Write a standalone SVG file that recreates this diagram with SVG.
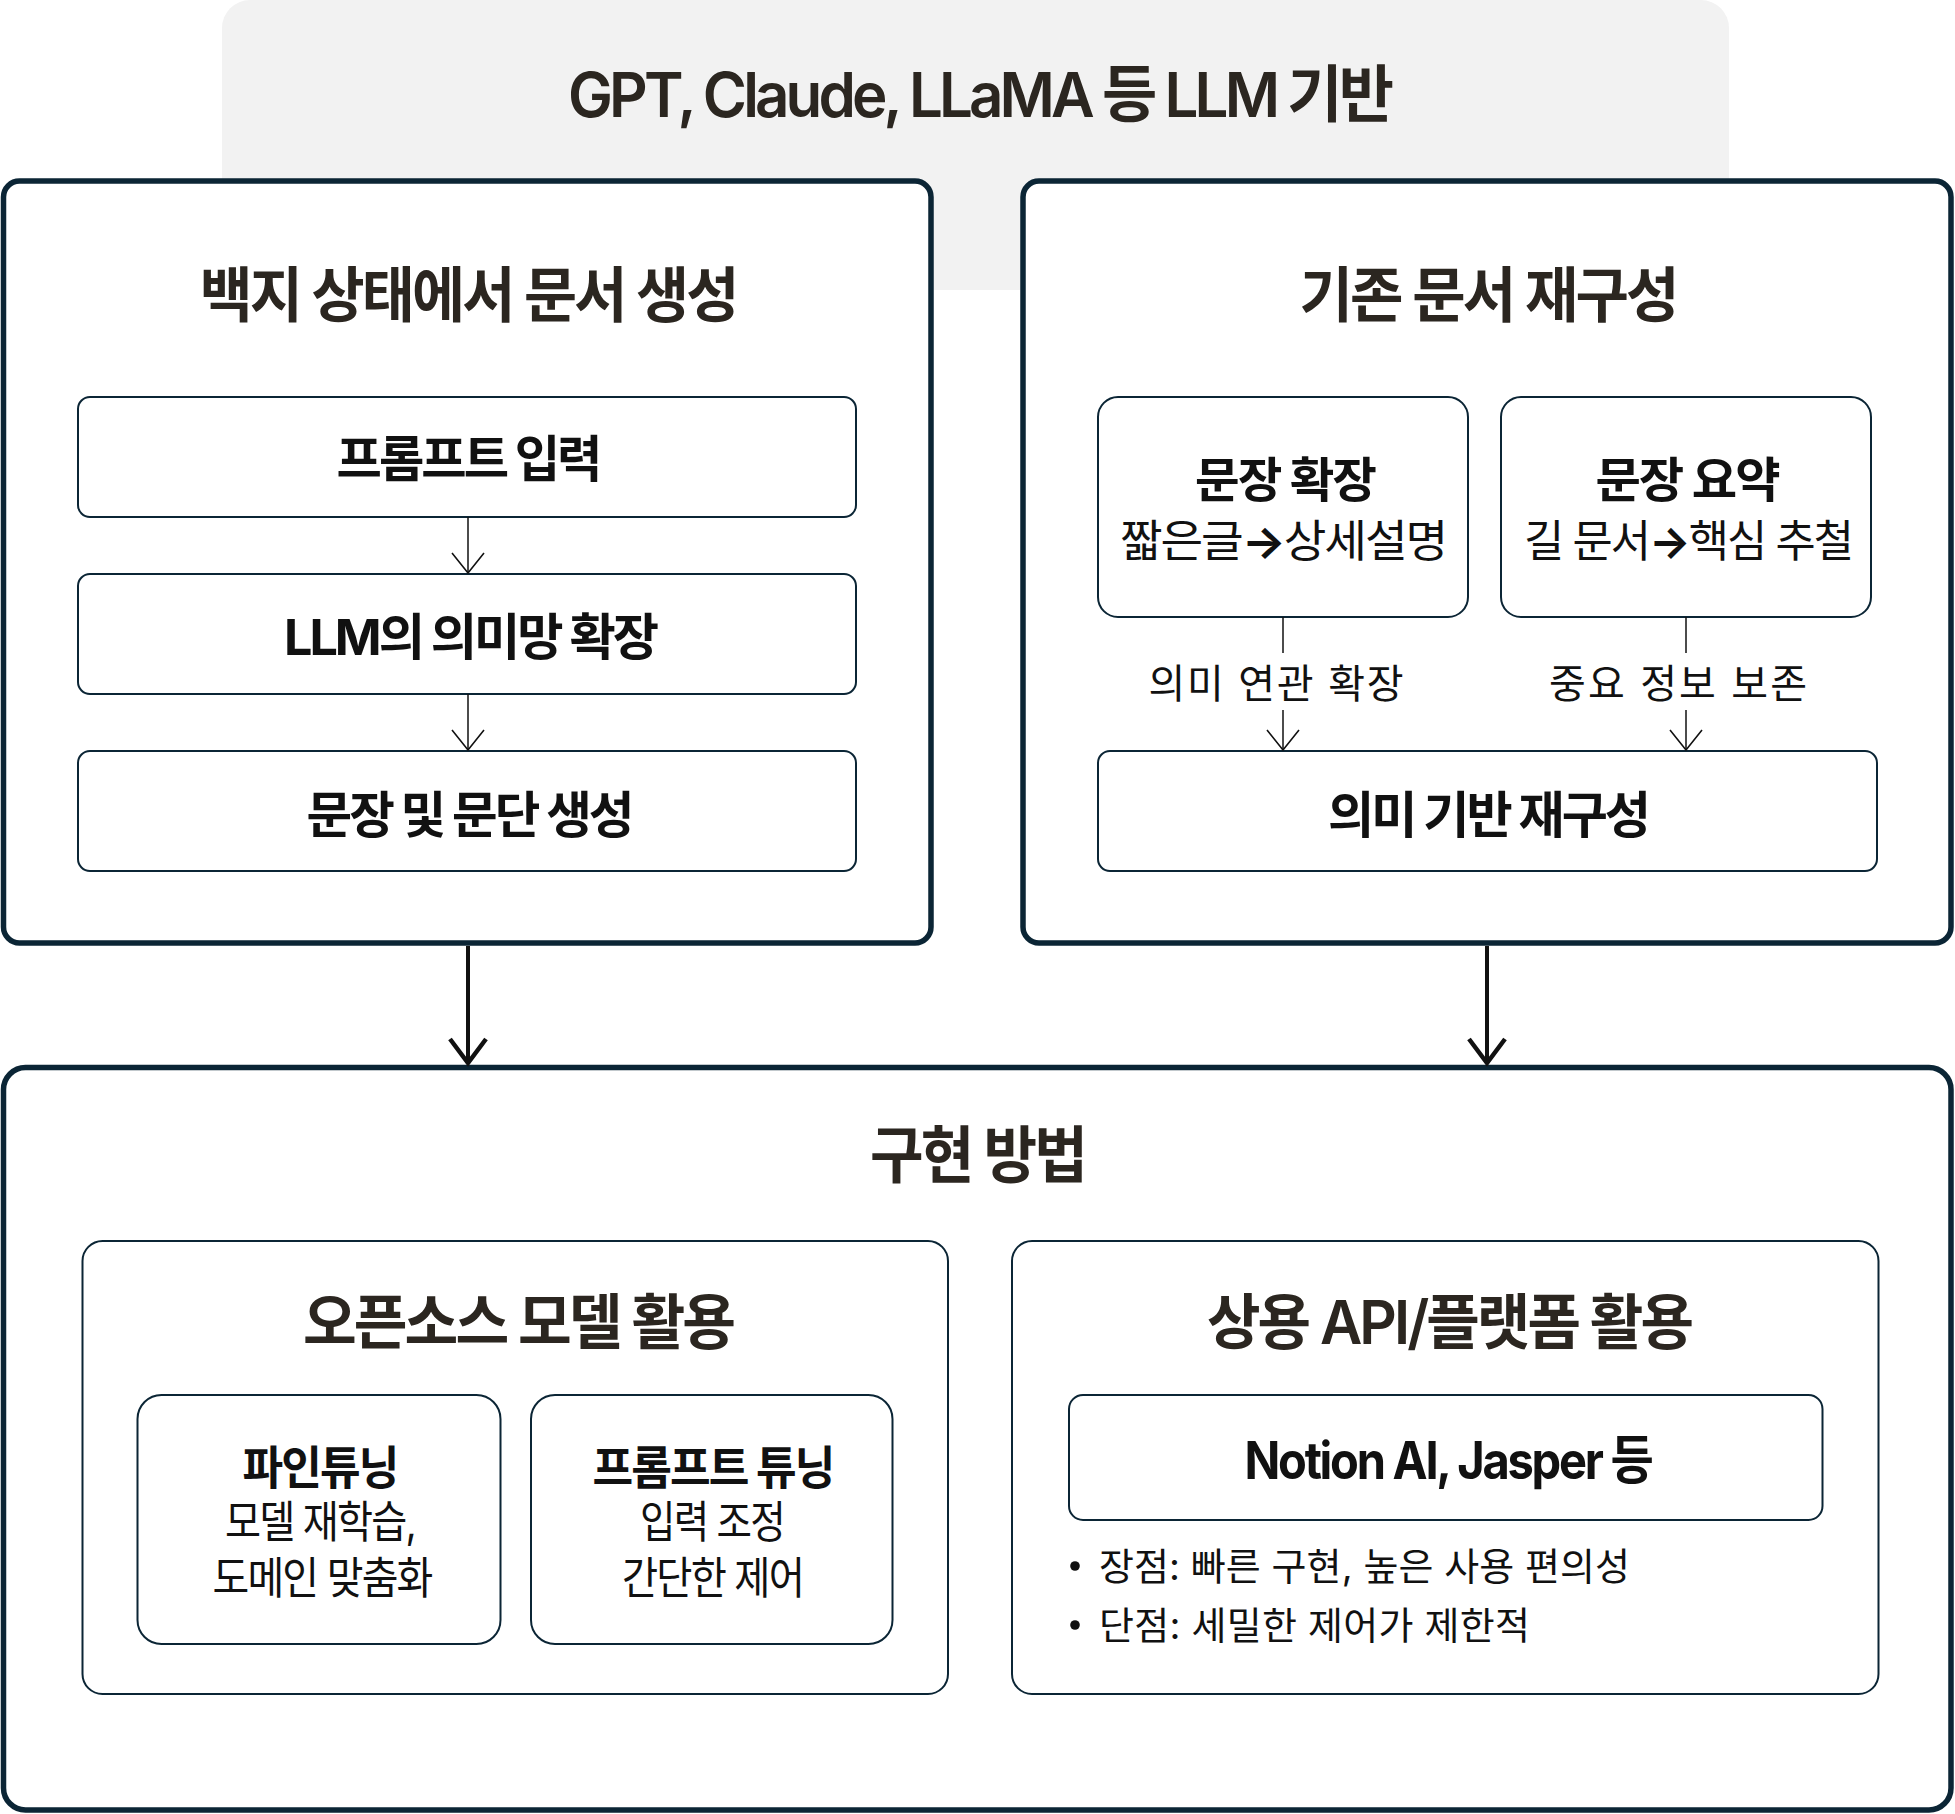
<svg xmlns="http://www.w3.org/2000/svg" width="1955" height="1814" viewBox="0 0 1955 1814">
<style>
  .big { fill: #ffffff; stroke: #0b2535; stroke-width: 5.5; }
  .box { fill: #ffffff; stroke: #0b2535; stroke-width: 2; }
  .t { font-family: Inter, "Noto Sans CJK KR", "Noto Sans", sans-serif; text-anchor: middle; }
  .title { fill: #2b2620; font-weight: 600; }
  .bold { fill: #111111; font-weight: 700; }
  .reg { fill: #111111; font-weight: 400; }
  .thin { stroke: #111111; stroke-width: 1.5; fill: none; }
  .thick { stroke: #111111; stroke-width: 4; fill: none; }
</style>
<defs>
  <marker id="ah" markerUnits="userSpaceOnUse" markerWidth="40" markerHeight="40" refX="0" refY="0" orient="auto" overflow="visible">
    <path d="M-20,-16 L0,0 L-20,16" fill="none" stroke="#111111" stroke-width="1.6"/>
  </marker>
  <marker id="ahb" markerUnits="userSpaceOnUse" markerWidth="40" markerHeight="40" refX="0" refY="0" orient="auto" overflow="visible">
    <path d="M-24,-18 L0,0 L-24,18" fill="none" stroke="#111111" stroke-width="4.5"/>
  </marker>
</defs>

<g id="llm-base">
  <rect x="222" y="0" width="1507" height="290" rx="28" fill="#f2f2f2"/>
  <text class="t title" x="979" y="117" font-size="62" font-weight="700" letter-spacing="-4" textLength="822" lengthAdjust="spacingAndGlyphs">GPT, Claude, LLaMA 등 LLM 기반</text>
</g>

<g id="blank-generation">
  <rect class="big" x="3.5" y="181" width="927.5" height="762" rx="16"/>
  <text class="t title" x="468" y="317" font-size="60" letter-spacing="-3" textLength="537" lengthAdjust="spacingAndGlyphs">백지 상태에서 문서 생성</text>
</g>
<g id="prompt-input">
  <rect class="box" x="78" y="397" width="778" height="120" rx="12"/>
  <text class="t bold" x="468" y="477" font-size="50" letter-spacing="-3" textLength="263" lengthAdjust="spacingAndGlyphs">프롬프트 입력</text>
</g>
<g id="semantic-expansion">
  <rect class="box" x="78" y="574" width="778" height="120" rx="12"/>
  <text class="t bold" x="470" y="655" font-size="50" letter-spacing="-3" textLength="372" lengthAdjust="spacingAndGlyphs">LLM의 의미망 확장</text>
</g>
<g id="sentence-generation">
  <rect class="box" x="78" y="751" width="778" height="120" rx="12"/>
  <text class="t bold" x="469" y="833" font-size="50" letter-spacing="-3" textLength="325" lengthAdjust="spacingAndGlyphs">문장 및 문단 생성</text>
</g>

<g id="restructure">
  <rect class="big" x="1023" y="181" width="928" height="762" rx="16"/>
  <text class="t title" x="1488" y="317" font-size="60" letter-spacing="-3" textLength="377" lengthAdjust="spacingAndGlyphs">기존 문서 재구성</text>
</g>
<g id="sentence-expand">
  <rect class="box" x="1098" y="397" width="370" height="220" rx="20"/>
  <text class="t bold" x="1285" y="497" font-size="48" letter-spacing="-2" textLength="180" lengthAdjust="spacingAndGlyphs">문장 확장</text>
  <text class="t reg" x="1283" y="557" font-size="44" letter-spacing="-2" textLength="326" lengthAdjust="spacingAndGlyphs">짧은글<tspan font-weight="700">→</tspan>상세설명</text>
</g>
<g id="sentence-summary">
  <rect class="box" x="1501" y="397" width="370" height="220" rx="20"/>
  <text class="t bold" x="1687" y="497" font-size="48" letter-spacing="-2" textLength="183" lengthAdjust="spacingAndGlyphs">문장 요약</text>
  <text class="t reg" x="1688" y="557" font-size="44" letter-spacing="-2" textLength="328" lengthAdjust="spacingAndGlyphs">길 문서<tspan font-weight="700">→</tspan>핵심 추철</text>
</g>
<g id="semantic-restructure">
  <rect class="box" x="1098" y="751" width="779" height="120" rx="12"/>
  <text class="t bold" x="1488" y="833" font-size="50" letter-spacing="-3" textLength="320" lengthAdjust="spacingAndGlyphs">의미 기반 재구성</text>
</g>

<g id="implementation">
  <rect class="big" x="3.5" y="1067.5" width="1947.5" height="742.5" rx="22"/>
  <text class="t title" x="977.5" y="1178" font-size="62" letter-spacing="-3" textLength="215" lengthAdjust="spacingAndGlyphs">구현 방법</text>
</g>
<g id="open-source">
  <rect class="box" x="82.5" y="1241" width="865.5" height="453" rx="20"/>
  <text class="t title" x="518" y="1344" font-size="60" letter-spacing="-3" textLength="430" lengthAdjust="spacingAndGlyphs">오픈소스 모델 활용</text>
</g>
<g id="fine-tuning">
  <rect class="box" x="137.5" y="1395" width="363" height="249" rx="24"/>
  <text class="t bold" x="320" y="1484" font-size="46" letter-spacing="-2" textLength="155" lengthAdjust="spacingAndGlyphs">파인튜닝</text>
  <text class="t reg" x="320" y="1538" font-size="44" letter-spacing="-2" textLength="190" lengthAdjust="spacingAndGlyphs">모델 재학습,</text>
  <text class="t reg" x="322" y="1594" font-size="44" letter-spacing="-2" textLength="219" lengthAdjust="spacingAndGlyphs">도메인 맞춤화</text>
</g>
<g id="prompt-tuning">
  <rect class="box" x="531" y="1395" width="361.5" height="249" rx="24"/>
  <text class="t bold" x="713" y="1484" font-size="46" letter-spacing="-2" textLength="241" lengthAdjust="spacingAndGlyphs">프롬프트 튜닝</text>
  <text class="t reg" x="712" y="1538" font-size="44" letter-spacing="-2" textLength="144" lengthAdjust="spacingAndGlyphs">입력 조정</text>
  <text class="t reg" x="712.5" y="1594" font-size="44" letter-spacing="-2" textLength="181" lengthAdjust="spacingAndGlyphs">간단한 제어</text>
</g>
<g id="commercial-api">
  <rect class="box" x="1012" y="1241" width="866.5" height="453" rx="20"/>
  <text class="t title" x="1449" y="1344" font-size="60" letter-spacing="-3" textLength="484" lengthAdjust="spacingAndGlyphs">상용 API/플랫폼 활용</text>
  <circle cx="1075" cy="1566" r="4.8" fill="#111111"/>
  <circle cx="1075" cy="1625" r="4.8" fill="#111111"/>
  <text class="t reg" x="1099" y="1580" font-size="38" style="text-anchor:start" textLength="531">장점: 빠른 구현, 높은 사용 편의성</text>
  <text class="t reg" x="1099" y="1639" font-size="38" style="text-anchor:start" textLength="431">단점: 세밀한 제어가 제한적</text>
</g>
<g id="notion-jasper">
  <rect class="box" x="1069" y="1395" width="753.5" height="125" rx="14"/>
  <text class="t bold" x="1448" y="1479" font-size="52" letter-spacing="-2.5" textLength="407" lengthAdjust="spacingAndGlyphs">Notion AI, Jasper 등</text>
</g>

<g id="connectors">
  <line class="thin" x1="468" y1="517" x2="468" y2="573" marker-end="url(#ah)"/>
  <line class="thin" x1="468" y1="694" x2="468" y2="750" marker-end="url(#ah)"/>
  <line class="thin" x1="1283" y1="617" x2="1283" y2="653"/>
  <line class="thin" x1="1283" y1="710" x2="1283" y2="750" marker-end="url(#ah)"/>
  <line class="thin" x1="1686" y1="617" x2="1686" y2="653"/>
  <line class="thin" x1="1686" y1="710" x2="1686" y2="750" marker-end="url(#ah)"/>
  <text class="t reg" x="1276" y="698" font-size="40" textLength="255">의미 연관 확장</text>
  <text class="t reg" x="1678" y="698" font-size="40" textLength="258">중요 정보 보존</text>
  <line class="thick" x1="468" y1="946" x2="468" y2="1063" marker-end="url(#ahb)"/>
  <line class="thick" x1="1487" y1="946" x2="1487" y2="1063" marker-end="url(#ahb)"/>
</g>
</svg>
